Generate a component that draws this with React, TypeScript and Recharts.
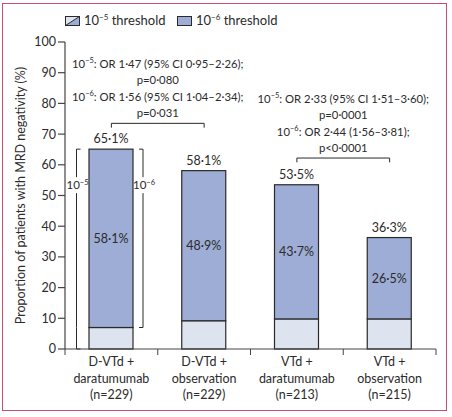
import React from 'react';
import { BarChart, Bar, XAxis, YAxis, ReferenceLine, LabelList, Label } from 'recharts';

// ---------- data ----------
const categoryKeys = ['D-VTd + daratumumab', 'D-VTd + observation', 'VTd + daratumumab', 'VTd + observation'];
const categoryLines = [
  ['D-VTd +', 'daratumumab', '(n=229)'],
  ['D-VTd +', 'observation', '(n=229)'],
  ['VTd +', 'daratumumab', '(n=213)'],
  ['VTd +', 'observation', '(n=215)'],
];
const threshold5 = [65.1, 58.1, 53.5, 36.3];
const threshold6 = [58.1, 48.9, 43.7, 26.5];
const yTicks = [0, 10, 20, 30, 40, 50, 60, 70, 80, 90, 100];
const yLabel = 'Proportion of patients with MRD negativity (%)';
const legendExponents = ['−5', '−6'];
const legendText = ' threshold';
const comparisonPairs = [
  [0, 1],
  [2, 3],
];
const comparisonLevels = [73.5, 62.2];
const comparisonTexts = [
  ['10^−5: OR 1·47 (95% CI 0·95–2·26);', 'p=0·080', '10^−6: OR 1·56 (95% CI 1·04–2·34);', 'p=0·031'],
  ['10^−5: OR 2·33 (95% CI 1·51–3·60);', 'p=0·0001', '10^−6: OR 2·44 (1·56–3·81);', 'p<0·0001'],
];
const bracketExponents = ['−5', '−6'];

const data = categoryKeys.map((name, i) => ({
  name,
  low: Math.round((threshold5[i] - threshold6[i]) * 10) / 10,
  high: threshold6[i],
  t5: threshold5[i],
  t6: threshold6[i],
}));

// ---------- style ----------
const W = 452;
const H = 417;
const MARGIN = { top: 42, right: 16, bottom: 8, left: 20 };
const Y_AXIS_W = 45;
const X_AXIS_H = 60;
const PLOT_W = W - MARGIN.left - MARGIN.right - Y_AXIS_W;
const FONT = 'Lato, "Noto Sans", sans-serif';
const TEXT = '#2b2b2b';
const AXIS = '#444';
const EDGE = '#2a2a2a';
const BLUE = '#9eadd5';
const LIGHT = '#dde3ef';
const FRAME = '#c44d72';
const FS = 12.5;
const FS_COMP = 11.3;

const fmt = (v: any) => `${Number(v).toFixed(1).replace('.', '·')}%`;

function rich(line: string, supSize = 8) {
  const m = line.match(/^10\^(−\d)(.*)$/);
  if (!m) return line;
  return [
    <tspan key="a">10</tspan>,
    <tspan key="b" dy={-4.5} fontSize={supSize}>{m[1]}</tspan>,
    <tspan key="c" dy={4.5}>{m[2]}</tspan>,
  ];
}

const XTick = (props: any) => {
  const { x, y, payload } = props;
  const band = PLOT_W / categoryKeys.length;
  const i = categoryKeys.indexOf(payload.value);
  const lines = categoryLines[i] || [];
  return (
    <g>
      {i === 0 && <line x1={x - band / 2} x2={x - band / 2} y1={y} y2={y + 6} stroke={AXIS} strokeWidth={1} />}
      <line x1={x + band / 2} x2={x + band / 2} y1={y} y2={y + 6} stroke={AXIS} strokeWidth={1} />
      {lines.map((l, k) => (
        <text key={k} x={x} y={y + 17 + k * 16.5} textAnchor="middle" fontSize={FS} fill={TEXT} fontFamily={FONT}>
          {l}
        </text>
      ))}
    </g>
  );
};

const isFirst = (props: any) => props.index === 0 || (props.payload && props.payload.name === categoryKeys[0]);

const LowerShape = (props: any) => {
  const { x, y, width, height } = props;
  const xl = x - 12.5;
  return (
    <g>
      <rect x={x} y={y} width={width} height={height} fill={LIGHT} stroke={EDGE} strokeWidth={1.2} />
      {isFirst(props) && (
        <path d={`M${xl},${y} V${y + height} H${xl + 4}`} stroke={EDGE} strokeWidth={1} fill="none" />
      )}
    </g>
  );
};

const UpperShape = (props: any) => {
  const { x, y, width, height } = props;
  const first = isFirst(props);
  const xl = x - 12.5;
  const xr = x + width + 10;
  const ly = y + 36;
  return (
    <g>
      <rect x={x} y={y} width={width} height={height} fill={BLUE} stroke={EDGE} strokeWidth={1.2} />
      {first && (
        <g>
          <path d={`M${xl + 4},${y} H${xl} V${y + height}`} stroke={EDGE} strokeWidth={1} fill="none" />
          <path d={`M${xr - 4},${y} H${xr} V${y + height} H${xr - 4}`} stroke={EDGE} strokeWidth={1} fill="none" />
          {[xl, xr].map((bx, k) => (
            <g key={k}>
              <rect x={bx - 9} y={ly - 8} width={20} height={16} fill="#fff" />
              <text x={bx + 1} y={ly + 4} textAnchor="middle" fontSize={11.5} fill={TEXT} fontFamily={FONT}>
                {rich('10^' + bracketExponents[k], 7.5)}
              </text>
            </g>
          ))}
        </g>
      )}
    </g>
  );
};

const makeCompLabel = (lines: string[]) => (props: any) => {
  const vb = props.viewBox || {};
  const cx = (vb.x || 0) + (vb.width || 0) / 2;
  const y = vb.y || 0;
  const n = lines.length;
  return (
    <g>
      {lines.map((l, i) => (
        <text
          key={i}
          x={cx}
          y={y - 6 - (n - 1 - i) * 16.5}
          textAnchor="middle"
          fontSize={FS_COMP}
          fill={TEXT}
          fontFamily={FONT}
        >
          {rich(l, 7.5)}
        </text>
      ))}
    </g>
  );
};

const LegendSwatch = ({ kind }: { kind: number }) => (
  <svg width={15} height={10} style={{ display: 'block' }}>
    <rect x={0.5} y={0.5} width={14} height={9} fill={kind === 0 ? LIGHT : BLUE} stroke={EDGE} strokeWidth={1} />
    {kind === 0 && (
      <g>
        <polygon points="0.5,9.5 14.5,0.5 14.5,9.5" fill={BLUE} />
        <line x1={0.5} y1={9.5} x2={14.5} y2={0.5} stroke={EDGE} strokeWidth={1} />
        <rect x={0.5} y={0.5} width={14} height={9} fill="none" stroke={EDGE} strokeWidth={1} />
      </g>
    )}
  </svg>
);

const legendPos = [
  { sw: 65, tx: 84 },
  { sw: 177, tx: 196 },
];

export default function App() {
  return (
    <div style={{ position: 'absolute', left: 0, top: 0, width: W, height: H, background: '#fff', fontFamily: FONT }}>
      <BarChart width={W} height={H} data={data} margin={MARGIN} barSize={44}>
        <YAxis
          type="number"
          domain={[0, 100]}
          ticks={yTicks}
          interval={0}
          width={Y_AXIS_W}
          tickSize={7}
          axisLine={{ stroke: AXIS, strokeWidth: 1.2 }}
          tickLine={{ stroke: AXIS, strokeWidth: 1.2 }}
          tick={{ fill: TEXT, fontSize: FS, fontFamily: FONT }}
        >
          <Label
            value={yLabel}
            angle={-90}
            position="insideLeft"
            offset={1}
            style={{ textAnchor: 'middle', fill: TEXT, fontSize: FS, fontFamily: FONT }}
          />
        </YAxis>
        <XAxis
          dataKey="name"
          type="category"
          height={X_AXIS_H}
          interval={0}
          tickLine={false}
          tickSize={0}
          tickMargin={0}
          axisLine={{ stroke: AXIS, strokeWidth: 1.2 }}
          tick={<XTick />}
        />
        <Bar dataKey="low" stackId="a" fill={LIGHT} shape={<LowerShape />} isAnimationActive={false} />
        <Bar dataKey="high" stackId="a" fill={BLUE} shape={<UpperShape />} isAnimationActive={false}>
          <LabelList dataKey="t6" position="center" formatter={fmt} fill={TEXT} fontSize={FS} fontFamily={FONT} />
          <LabelList dataKey="t5" position="top" offset={6} formatter={fmt} fill={TEXT} fontSize={FS} fontFamily={FONT} />
        </Bar>
        {comparisonPairs.map(([a, b], k) => (
          <ReferenceLine
            key={`c${k}`}
            segment={[
              { x: categoryKeys[a], y: comparisonLevels[k] },
              { x: categoryKeys[b], y: comparisonLevels[k] },
            ]}
            stroke={EDGE}
            strokeWidth={1}
          >
            <Label content={makeCompLabel(comparisonTexts[k])} />
          </ReferenceLine>
        ))}
        {comparisonPairs.map(([a, b], k) =>
          [a, b].map((ci) => (
            <ReferenceLine
              key={`t${k}-${ci}`}
              segment={[
                { x: categoryKeys[ci], y: comparisonLevels[k] },
                { x: categoryKeys[ci], y: comparisonLevels[k] - 1.4 },
              ]}
              stroke={EDGE}
              strokeWidth={1}
            />
          ))
        )}
      </BarChart>
      {legendExponents.map((e, k) => (
        <React.Fragment key={k}>
          <div style={{ position: 'absolute', left: legendPos[k].sw, top: 16 }}>
            <LegendSwatch kind={k} />
          </div>
          <div
            style={{
              position: 'absolute',
              left: legendPos[k].tx,
              top: 11,
              fontSize: 13,
              color: TEXT,
              lineHeight: '18px',
              whiteSpace: 'nowrap',
            }}
          >
            10<span style={{ fontSize: 8, position: 'relative', top: -5 }}>{e}</span>
            {legendText}
          </div>
        </React.Fragment>
      ))}
      <div
        style={{
          position: 'absolute',
          left: 2,
          top: 3,
          width: 443,
          height: 406,
          border: `1.5px solid ${FRAME}`,
          pointerEvents: 'none',
        }}
      />
    </div>
  );
}
